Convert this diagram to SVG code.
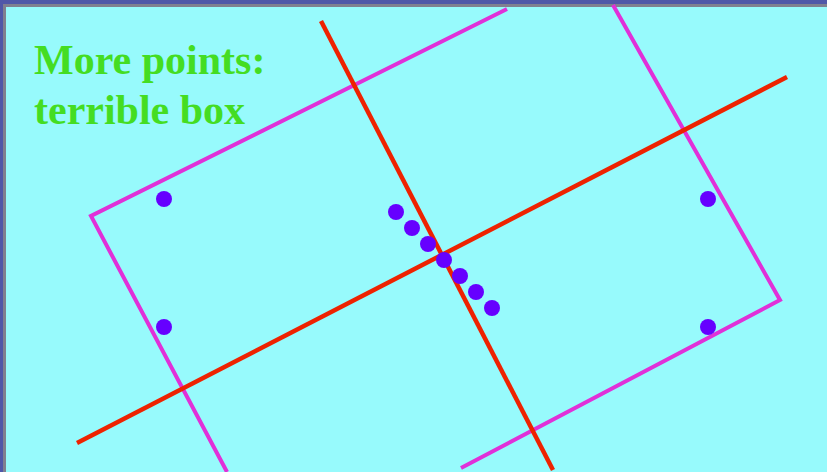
<svg xmlns="http://www.w3.org/2000/svg" width="827" height="472" viewBox="0 0 827 472">
<style>
.red{stroke:#EE2200;stroke-width:4.5;fill:none}
.mag{stroke:#E030D8;stroke-width:4;fill:none}
.dot{fill:#6600FF}
.title{font-family:"Liberation Serif",serif;font-weight:bold;font-size:42px;fill:#44DD22}
</style>
<rect x="0" y="0" width="827" height="472" fill="#5058A8"/>
<rect x="3" y="4" width="824" height="468" fill="#808090"/>
<rect x="6" y="7" width="821" height="465" fill="#97FAFC"/>
<g id="title">
<text class="title" x="34" y="74">More points:</text>
<text class="title" x="34" y="124">terrible box</text>
</g>
<g id="box">
<polyline class="mag" points="507,9 91,216 227,472"/>
<polyline class="mag" points="613,5 780,300 461,468"/>
</g>
<g id="axes">
<line class="red" x1="77" y1="443" x2="787" y2="77"/>
<line class="red" x1="321" y1="21" x2="553" y2="470"/>
</g>
<g id="points">
<circle class="dot" cx="164" cy="199" r="8"/>
<circle class="dot" cx="164" cy="327" r="8"/>
<circle class="dot" cx="708" cy="199" r="8"/>
<circle class="dot" cx="708" cy="327" r="8"/>
<circle class="dot" cx="396" cy="212" r="8"/>
<circle class="dot" cx="412" cy="228" r="8"/>
<circle class="dot" cx="428" cy="244" r="8"/>
<circle class="dot" cx="444" cy="260" r="8"/>
<circle class="dot" cx="460" cy="276" r="8"/>
<circle class="dot" cx="476" cy="292" r="8"/>
<circle class="dot" cx="492" cy="308" r="8"/>
</g>
</svg>
